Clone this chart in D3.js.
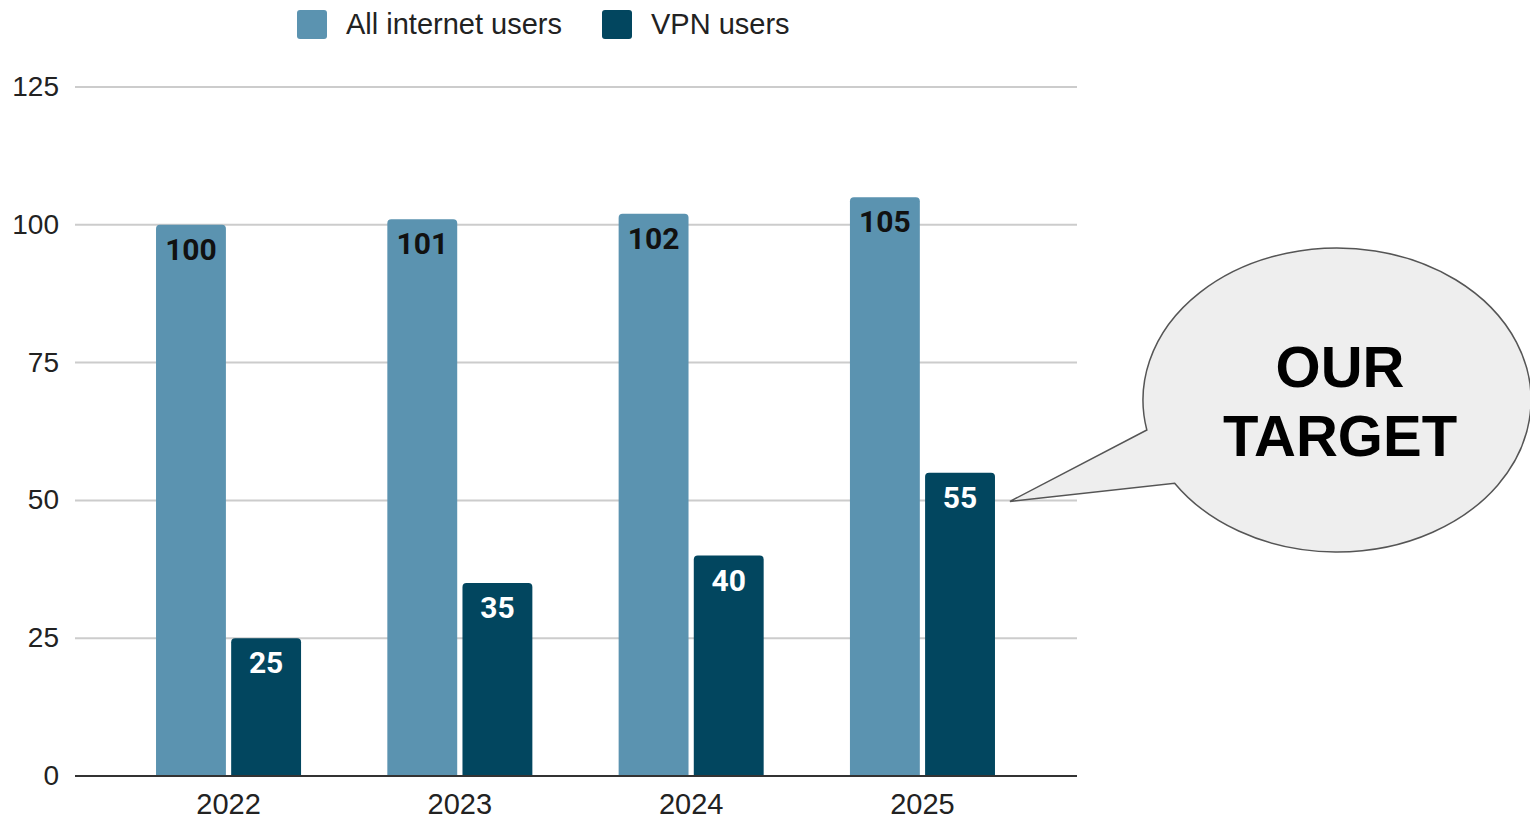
<!DOCTYPE html>
<html><head><meta charset="utf-8">
<script src="https://cdn.jsdelivr.net/npm/d3@7"></script>
<style>body{margin:0;background:#fff}svg{display:block}</style>
</head><body>
<svg id="c" width="1530" height="819"></svg>
<script>
const years = ["2022","2023","2024","2025"];
const seriesNames = ["All internet users","VPN users"];
const allUsers = [100,101,102,105];
const vpnUsers = [25,35,40,55];
const yTicks = [0,25,50,75,100,125];
const colors = ["#5b93b0","#02465f"];
const calloutLines = ["OUR","TARGET"];

const svg = d3.select("#c");
const y = d3.scaleLinear().domain([0,125]).range([776,87]);
const x0 = d3.scaleBand().domain(years).range([113,1038]).paddingInner(0.373).paddingOuter(0.186);
const x1 = d3.scaleBand().domain(seriesNames).range([0,x0.bandwidth()]).paddingInner(0.07);

// gridlines
svg.append("g").selectAll("line").data(yTicks.filter(d=>d>0)).join("line")
  .attr("x1",75).attr("x2",1077).attr("y1",d=>y(d)).attr("y2",d=>y(d))
  .attr("stroke","#cccccc").attr("stroke-width",2);

// y axis labels
const yAxis = d3.axisLeft(y).tickValues(yTicks).tickSize(0).tickPadding(0);
const ga = svg.append("g").attr("transform","translate(59,0)").call(yAxis);
ga.select(".domain").remove();
ga.selectAll("text").attr("font-family","Liberation Sans, Arial, sans-serif").attr("font-size",28).attr("fill","#222").attr("dy","0.3em");

const rows = years.map((yr,i)=>({year:yr, vals:[allUsers[i], vpnUsers[i]]}));
function topRounded(x,yTop,w,h,r){
  return `M${x},${yTop+h}V${yTop+r}Q${x},${yTop} ${x+r},${yTop}H${x+w-r}Q${x+w},${yTop} ${x+w},${yTop+r}V${yTop+h}Z`;
}
const g = svg.append("g");
rows.forEach(row=>{
  row.vals.forEach((v,j)=>{
    const bx = x0(row.year)+x1(seriesNames[j]);
    const w = x1.bandwidth();
    g.append("path").attr("d",topRounded(bx,y(v),w,y(0)-y(v),4)).attr("fill",colors[j]);
    g.append("text").attr("x",bx+w/2).attr("y",y(v)+35).attr("text-anchor","middle")
      .attr("font-family","Roboto, sans-serif").attr("font-weight","bold").attr("font-size",30)
      .attr("fill",j===0?"#111":"#fff").text(v);
  });
});

// baseline
svg.append("line").attr("x1",75).attr("x2",1077).attr("y1",y(0)).attr("y2",y(0)).attr("stroke","#333").attr("stroke-width",2);

// x axis labels
const xAxis = d3.axisBottom(x0).tickSize(0).tickPadding(0);
const gx = svg.append("g").attr("transform",`translate(0,${y(0)})`).call(xAxis);
gx.select(".domain").remove();
gx.selectAll("text").attr("font-family","Liberation Sans, Arial, sans-serif").attr("font-size",29).attr("fill","#222").attr("dy","1.3em");

// legend
const leg = svg.append("g");
const legX = [297,602];
seriesNames.forEach((s,j)=>{
  leg.append("rect").attr("x",legX[j]).attr("y",10).attr("width",30).attr("height",29).attr("rx",3).attr("fill",colors[j]);
  leg.append("text").attr("x",legX[j]+49).attr("y",34).attr("font-family","Liberation Sans, Arial, sans-serif").attr("font-size",29).attr("fill","#222").text(s);
});

// speech bubble callout
const cx=1337, cy=400, rx=194, ry=152;
const a1 = Math.atan2(30/ry,-190/rx), a2 = Math.atan2(83/ry,-162/rx);
const p1=[cx+rx*Math.cos(a1), cy+ry*Math.sin(a1)], p2=[cx+rx*Math.cos(a2), cy+ry*Math.sin(a2)];
const tip=[x0("2025")+x1("VPN users")+x1.bandwidth()+15, y(50)+1];
svg.append("path").attr("d",`M${p1[0]},${p1[1]}L${tip[0]},${tip[1]}L${p2[0]},${p2[1]}A${rx},${ry} 0 1 0 ${p1[0]},${p1[1]}Z`)
  .attr("fill","#eeeeee").attr("stroke","#555").attr("stroke-width",1.5);
svg.append("g").selectAll("text").data(calloutLines).join("text")
  .attr("x",1340).attr("y",(d,i)=>387+i*69).attr("text-anchor","middle")
  .attr("font-family","Liberation Sans, Arial, sans-serif").attr("font-weight","bold").attr("font-size",58).attr("fill","#000").text(d=>d);
</script>
</body></html>
